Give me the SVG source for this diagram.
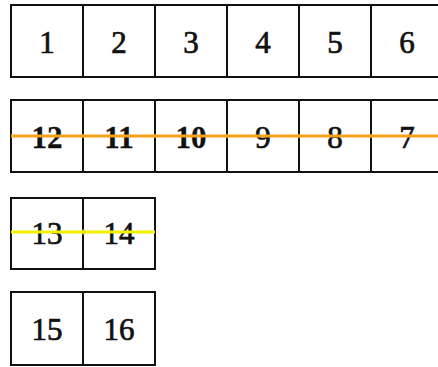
<svg xmlns="http://www.w3.org/2000/svg" width="438" height="367" viewBox="0 0 438 367">
<style>
.cell{fill:#fff;stroke:#111;stroke-width:2}
.lbl{font-family:"Liberation Serif","Times New Roman",serif;font-size:31px;fill:#111;stroke:#111;stroke-width:0.7;text-anchor:middle}
.b{font-weight:bold;stroke-width:0.3}
.orange{stroke:#f5a21b;stroke-width:2.8;fill:none}
.yellow{stroke:#f2f200;stroke-width:2.8;fill:none}
</style>
<defs>
<marker id="odot" viewBox="0 0 6 6" refX="3" refY="3" markerWidth="4" markerHeight="4" markerUnits="userSpaceOnUse"><circle cx="3" cy="3" r="3" fill="#f0a020"/></marker>
<marker id="yarr" viewBox="0 0 10 10" refX="5" refY="5" markerWidth="8" markerHeight="7" markerUnits="userSpaceOnUse" orient="auto"><path d="M0,1 L10,5 L0,9 Z" fill="#e8e000"/></marker>
</defs>
<rect width="438" height="367" fill="#fff"/>
<g id="n1"><rect class="cell" x="11" y="5" width="72" height="72"/><text class="lbl" x="47" y="53">1</text></g>
<g id="n2"><rect class="cell" x="83" y="5" width="72" height="72"/><text class="lbl" x="119" y="53">2</text></g>
<g id="n3"><rect class="cell" x="155" y="5" width="72" height="72"/><text class="lbl" x="191" y="53">3</text></g>
<g id="n4"><rect class="cell" x="227" y="5" width="72" height="72"/><text class="lbl" x="263" y="53">4</text></g>
<g id="n5"><rect class="cell" x="299" y="5" width="72" height="72"/><text class="lbl" x="335" y="53">5</text></g>
<g id="n6"><rect class="cell" x="371" y="5" width="72" height="72"/><text class="lbl" x="407" y="53">6</text></g>
<g id="n12"><rect class="cell" x="11" y="100" width="72" height="72"/><text class="lbl b" x="47" y="148">12</text></g>
<g id="n11"><rect class="cell" x="83" y="100" width="72" height="72"/><text class="lbl b" x="119" y="148">11</text></g>
<g id="n10"><rect class="cell" x="155" y="100" width="72" height="72"/><text class="lbl b" x="191" y="148">10</text></g>
<g id="n9"><rect class="cell" x="227" y="100" width="72" height="72"/><text class="lbl" x="263" y="148">9</text></g>
<g id="n8"><rect class="cell" x="299" y="100" width="72" height="72"/><text class="lbl" x="335" y="148">8</text></g>
<g id="n7"><rect class="cell" x="371" y="100" width="72" height="72"/><text class="lbl" x="407" y="148">7</text></g>
<g id="n13"><rect class="cell" x="11" y="198" width="72" height="71"/><text class="lbl" x="47" y="244">13</text></g>
<g id="n14"><rect class="cell" x="83" y="198" width="72" height="71"/><text class="lbl" x="119" y="244">14</text></g>
<g id="n15"><rect class="cell" x="11" y="292" width="72" height="73"/><text class="lbl" x="47" y="340">15</text></g>
<g id="n16"><rect class="cell" x="83" y="292" width="72" height="73"/><text class="lbl" x="119" y="340">16</text></g>
<g id="connectors">
<polyline class="orange" points="11,136 83,136 155,136 227,136 299,136 371,136 438,136" marker-mid="url(#odot)"/>
<line class="yellow" x1="11" y1="232" x2="86" y2="232" marker-end="url(#yarr)"/>
<line class="yellow" x1="86" y1="232" x2="155" y2="232"/>
</g>
</svg>
